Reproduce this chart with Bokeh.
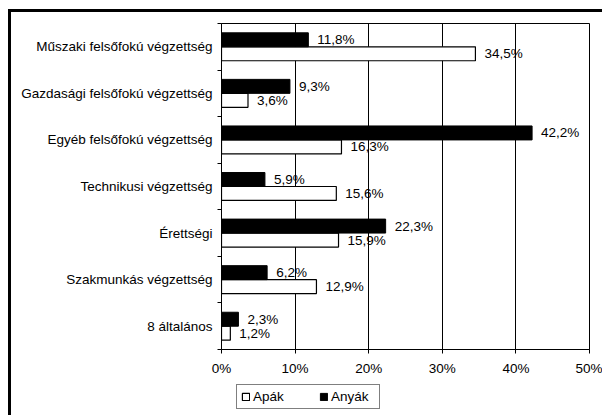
from bokeh.plotting import figure
from bokeh.layouts import column
from bokeh.models import (Range1d, FixedTicker, PrintfTickFormatter, ColumnDataSource,
                          Legend, LegendItem)
from bokeh.core.properties import value
from bokeh.embed import file_html
from bokeh.resources import INLINE

categories = ["Műszaki felsőfokú végzettség", "Gazdasági felsőfokú végzettség",
              "Egyéb felsőfokú végzettség", "Technikusi végzettség", "Érettségi",
              "Szakmunkás végzettség", "8 általános"]
apak = [34.5, 3.6, 16.3, 15.6, 15.9, 12.9, 1.2]
anyak = [11.8, 9.3, 42.2, 5.9, 22.3, 6.2, 2.3]
series_names = ["Apák", "Anyák"]
x_ticks = [0, 10, 20, 30, 40, 50]

FONT = "Liberation Sans"
FS = "13.5px"
n = len(categories)
ypos = [n - 0.5 - i for i in range(n)]
BAR_H = 0.3


def fmt(v):
    return f"{v:.1f}".replace(".", ",") + "%"


src_apa = ColumnDataSource(dict(y=[y - BAR_H / 2 for y in ypos], v=apak,
                                lbl=[fmt(v) for v in apak]))
src_any = ColumnDataSource(dict(y=[y + BAR_H / 2 for y in ypos], v=anyak,
                                lbl=[fmt(v) for v in anyak]))

APA_STYLE = dict(fill_color="white", line_color="black", line_width=1.2)
ANY_STYLE = dict(fill_color="black", line_color="black", line_width=1)

p = figure(width=591, height=366, x_range=Range1d(0, x_ticks[-1]), y_range=Range1d(0, n),
           output_backend="svg", toolbar_location=None,
           min_border_left=210, min_border_top=11, min_border_right=13, min_border_bottom=28)
p.background_fill_color = "white"
p.border_fill_color = "white"
p.outline_line_color = "black"
p.outline_line_width = 1

p.hbar(y="y", right="v", left=0, height=BAR_H, source=src_apa, **APA_STYLE)
p.hbar(y="y", right="v", left=0, height=BAR_H, source=src_any, **ANY_STYLE)

for src in (src_apa, src_any):
    p.text(x="v", y="y", text="lbl", source=src, x_offset=9, text_baseline="middle",
           text_align="left", text_font=value(FONT), text_font_size=FS, text_color="black")

# x axis
p.xaxis.ticker = FixedTicker(ticks=x_ticks)
p.xaxis.formatter = PrintfTickFormatter(format="%d%%")
p.xaxis.axis_line_color = "black"
p.xaxis.major_tick_line_color = "black"
p.xaxis.major_tick_out = 4
p.xaxis.major_tick_in = 0
p.xaxis.minor_tick_line_color = None
p.xaxis.major_label_standoff = 7
p.xaxis.major_label_text_font = FONT
p.xaxis.major_label_text_font_size = FS
p.xaxis.major_label_text_color = "black"

# y axis: labels at category centres, ticks at category boundaries
p.yaxis.ticker = FixedTicker(ticks=ypos, minor_ticks=list(range(n + 1)))
p.yaxis.major_label_overrides = {y: c for y, c in zip(ypos, categories)}
p.yaxis.axis_line_color = "black"
p.yaxis.major_tick_line_color = None
p.yaxis.major_tick_out = 4
p.yaxis.major_tick_in = 0
p.yaxis.minor_tick_line_color = "black"
p.yaxis.minor_tick_out = 4
p.yaxis.minor_tick_in = 0
p.yaxis.major_label_standoff = 5
p.yaxis.major_label_text_font = FONT
p.yaxis.major_label_text_font_size = FS
p.yaxis.major_label_text_color = "black"

p.xgrid.grid_line_color = "black"
p.xgrid.grid_line_width = 1
p.ygrid.grid_line_color = None

# legend strip below the chart (frame aligned with the chart frame)
pl = figure(width=591, height=37, output_backend="svg", toolbar_location=None,
            x_range=Range1d(0, 1), y_range=Range1d(0, 1),
            x_axis_location=None, y_axis_location=None,
            min_border_left=210, min_border_top=0, min_border_right=13, min_border_bottom=0)
pl.outline_line_color = None
pl.background_fill_color = "white"
pl.border_fill_color = "white"
pl.grid.grid_line_color = None
# legend proxies: one bar each, placed outside the visible range
d_apa = pl.hbar(y=[-5], right=[-5], left=-6, height=1, **APA_STYLE)
d_any = pl.hbar(y=[-5], right=[-5], left=-6, height=1, **ANY_STYLE)
legend = Legend(items=[LegendItem(label=series_names[0], renderers=[d_apa]),
                       LegendItem(label=series_names[1], renderers=[d_any])],
                orientation="horizontal", location=(15, 6),
                glyph_width=9, glyph_height=9, label_standoff=3, spacing=22,
                label_width=44, padding=4, margin=0,
                border_line_color="black", border_line_width=1,
                label_text_font=FONT, label_text_font_size=FS, label_text_color="black",
                background_fill_color="white", background_fill_alpha=1)
pl.add_layout(legend, "center")

layout = column(p, pl, spacing=0, margin=(9, 0, 0, 8),
                styles={"border-top": "3px solid black", "border-left": "3px solid black"})

open("out.html", "w").write(file_html(layout, INLINE))
